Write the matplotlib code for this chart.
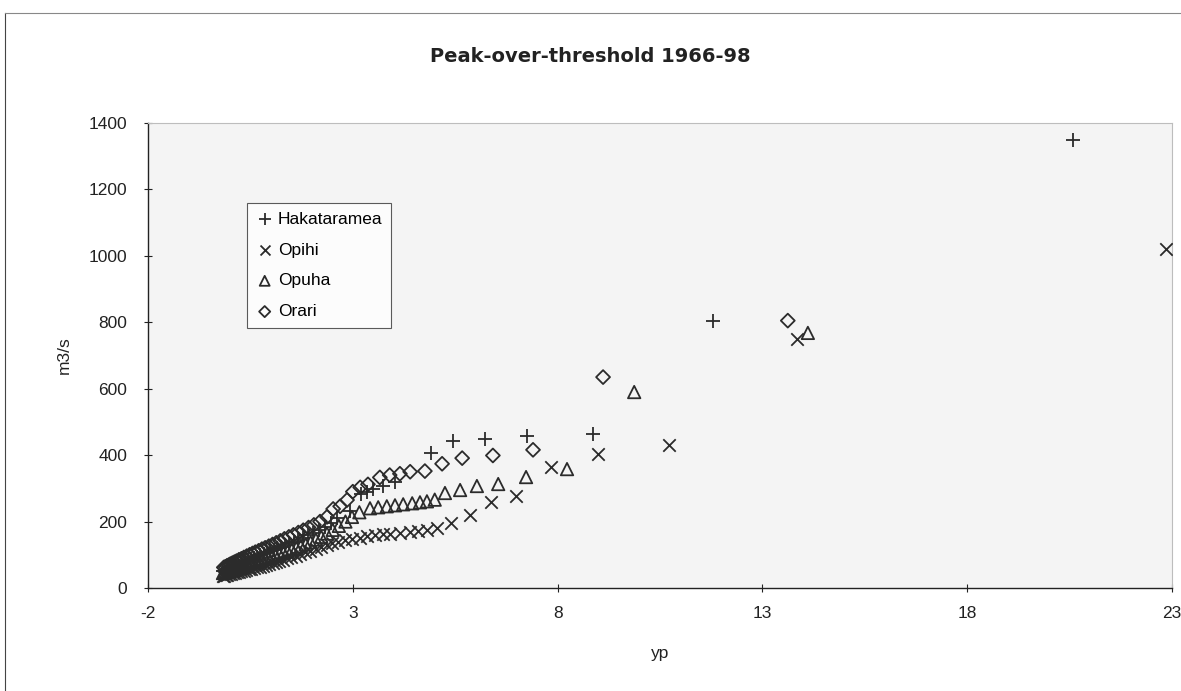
import matplotlib
matplotlib.use('Agg')
import matplotlib.pyplot as plt
from matplotlib.lines import Line2D

plt.rcParams['font.family'] = ['Liberation Sans', 'DejaVu Sans']

# Hakataramea (+)
hak_yp = [-0.16, -0.12, -0.08, -0.04, 0.0, 0.05, 0.1, 0.15, 0.2, 0.26, 0.32, 0.38,
          0.45, 0.52, 0.59, 0.66, 0.74, 0.82, 0.9, 0.98, 1.07, 1.16, 1.25, 1.35,
          1.45, 1.56, 1.67, 1.79, 1.91, 2.04, 2.17, 2.31, 2.46, 2.61,
          2.93, 3.2, 3.35, 3.5, 3.74, 4.03, 4.91, 5.45, 6.23, 7.25, 8.86, 11.79, 20.58]
hak_q = [52, 54, 56, 58, 60, 63, 65, 68, 71, 74, 77, 80,
         84, 87, 91, 94, 98, 102, 106, 110, 114, 119, 124, 129,
         134, 140, 146, 152, 159, 166, 174, 184, 196, 211,
         232, 283, 290, 297, 308, 319, 405, 443, 449, 458, 464, 805, 1350]

# Opihi (x)
opi_yp = [-0.18, -0.14, -0.1, -0.06, -0.02, 0.02, 0.07, 0.12, 0.17, 0.22, 0.28, 0.34,
          0.4, 0.46, 0.52, 0.59, 0.66, 0.73, 0.8, 0.88, 0.96, 1.04, 1.12, 1.21,
          1.3, 1.4, 1.5, 1.61, 1.72, 1.84, 1.96, 2.09, 2.22, 2.36, 2.5, 2.65,
          2.81, 2.98, 3.17, 3.35, 3.54, 3.74, 3.91, 4.15, 4.4, 4.59, 4.81, 5.05,
          5.4, 5.86, 6.37, 6.98, 7.84, 8.99, 10.72, 13.84, 22.85]
opi_q = [36, 37, 38, 40, 41, 42, 44, 45, 47, 48, 50, 52,
         54, 56, 58, 60, 62, 64, 67, 69, 72, 75, 78, 81,
         85, 89, 93, 97, 102, 107, 112, 118, 124, 130, 135, 140,
         145, 149, 152, 157, 160, 162, 164, 167, 170, 173, 176, 181,
         196, 220, 259, 277, 365, 403, 431, 750, 1020]

# Opuha (triangle)
opu_yp = [-0.17, -0.13, -0.09, -0.05, -0.01, 0.04, 0.09, 0.14, 0.19, 0.25, 0.31, 0.37,
          0.43, 0.5, 0.57, 0.64, 0.71, 0.79, 0.87, 0.95, 1.03, 1.12, 1.21, 1.31,
          1.41, 1.51, 1.62, 1.73, 1.85, 1.97, 2.1, 2.23, 2.37, 2.51, 2.66, 2.82,
          2.98, 3.16, 3.42, 3.62, 3.83, 4.03, 4.23, 4.45, 4.64, 4.81, 5.0,
          5.25, 5.62, 6.03, 6.55, 7.23, 8.23, 9.87, 14.11]
opu_q = [45, 47, 48, 50, 52, 54, 56, 58, 60, 63, 65, 68,
         70, 73, 76, 79, 82, 85, 88, 91, 94, 98, 102, 106,
         110, 115, 120, 125, 131, 138, 146, 154, 164, 175, 187, 200,
         214, 228, 240, 243, 246, 249, 252, 255, 258, 261, 266,
         286, 295, 307, 313, 334, 358, 590, 768]

# Orari (diamond)
ora_yp = [-0.15, -0.11, -0.07, -0.03, 0.01, 0.06, 0.11, 0.16, 0.22, 0.28, 0.34, 0.41,
          0.48, 0.55, 0.62, 0.7, 0.78, 0.86, 0.95, 1.04, 1.13, 1.23, 1.33, 1.44,
          1.55, 1.67, 1.79, 1.92, 2.05, 2.2, 2.37,
          2.52, 2.69, 2.86, 3.0, 3.18, 3.37, 3.66, 3.9, 4.15, 4.4, 4.76,
          5.18, 5.67, 6.42, 7.4, 9.11, 13.62]
ora_q = [62, 64, 67, 69, 72, 75, 78, 81, 85, 88, 92, 96,
         100, 104, 108, 112, 117, 121, 126, 131, 136, 142, 148, 154,
         160, 167, 174, 182, 190, 200, 214,
         238, 246, 265, 290, 303, 312, 333, 340, 344, 350, 352,
         374, 391, 399, 416, 635, 805]

x_ticks = [-2, 3, 8, 13, 18, 23]
y_ticks = [0, 200, 400, 600, 800, 1000, 1200, 1400]

fig = plt.figure(figsize=(11.81, 6.91), dpi=100)
ax = fig.add_axes([148/1181, 103/691, 1024/1181, 465/691])
ax.set_facecolor('#f4f4f4')

mc = '#2b2b2b'
ax.scatter(hak_yp, hak_q, marker='+', s=110, color=mc, linewidths=1.3, label='Hakataramea', zorder=3)
ax.scatter(opi_yp, opi_q, marker='x', s=80, color=mc, linewidths=1.3, label='Opihi', zorder=3)
ax.scatter(opu_yp, opu_q, marker='^', s=80, facecolors='none', edgecolors=mc, linewidths=1.3, label='Opuha', zorder=3)
ax.scatter(ora_yp, ora_q, marker='D', s=50, facecolors='none', edgecolors=mc, linewidths=1.3, label='Orari', zorder=3)

ax.set_xlim(-2, 23)
ax.set_ylim(0, 1400)
ax.set_xticks(x_ticks)
ax.set_xticklabels([str(v) for v in x_ticks])
ax.set_yticks(y_ticks)
ax.set_yticklabels([str(v) for v in y_ticks])
ax.tick_params(direction='inout', length=6, width=0.8, labelsize=12.5, colors='#222222')
ax.tick_params(axis='x', pad=10)
ax.tick_params(axis='y', pad=12)

for side in ['top', 'right']:
    ax.spines[side].set_color('#bdbdbd')
    ax.spines[side].set_linewidth(0.8)
for side in ['left', 'bottom']:
    ax.spines[side].set_color('#222222')
    ax.spines[side].set_linewidth(1.0)

ax.set_xlabel('yp', fontsize=12.5, labelpad=18, color='#222222')
ax.set_ylabel('m3/s', fontsize=12.5, labelpad=12, color='#222222')

fig.text(0.5, 1 - 57/691, 'Peak-over-threshold 1966-98', ha='center', va='center',
         fontsize=14, fontweight='bold', family='DejaVu Sans', color='#222222')

leg = ax.legend(loc='upper left', bbox_to_anchor=(0.097, 0.828), borderaxespad=0,
                frameon=True, fancybox=False, fontsize=12.5, handletextpad=0.25,
                handlelength=1.0, labelspacing=0.9, borderpad=0.5, markerscale=0.8)
leg.get_frame().set_edgecolor('#333333')
leg.get_frame().set_linewidth(0.8)
leg.get_frame().set_facecolor('white')

# chart area border (left and top edges visible in the scan)
fig.add_artist(Line2D([5/1181, 5/1181], [0, 1 - 13/691], transform=fig.transFigure, color='#444444', lw=0.8))
fig.add_artist(Line2D([5/1181, 1], [1 - 13/691, 1 - 13/691], transform=fig.transFigure, color='#888888', lw=0.8))

fig.savefig('out.png', dpi=100)
